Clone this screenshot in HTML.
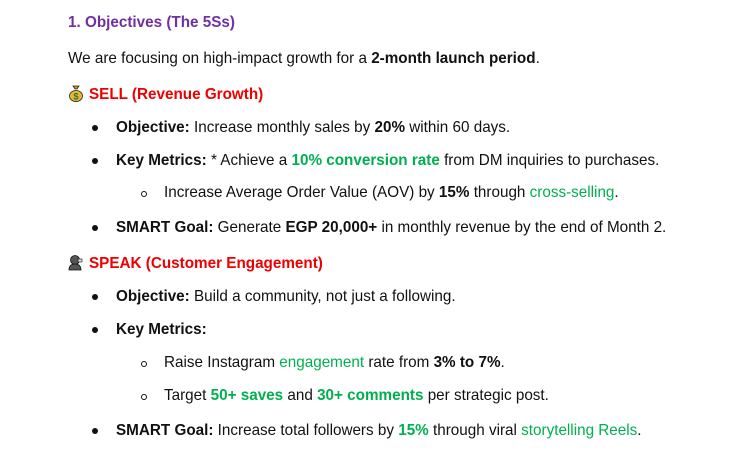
<!DOCTYPE html>
<html><head><meta charset="utf-8"><style>
body{margin:0;width:752px;height:460px;background:#fff;font-family:"Liberation Sans",sans-serif;font-size:15.25px;color:#111;position:relative;overflow:hidden}
.l{position:absolute;white-space:nowrap;line-height:18px}
.p{color:#7030a0;font-weight:bold}
.r{color:#ee0000;font-weight:bold}
.g{color:#00b050}
.gb{color:#00b050;font-weight:bold}
.dot{position:absolute;width:6px;height:6px;border-radius:50%;background:#111}
.circ{position:absolute;width:4px;height:4px;border-radius:50%;border:1px solid #111}
.ic{display:inline-block;width:16px;height:17px;vertical-align:-3px;margin-right:5px}
</style></head><body>
<div class="l p" style="left:68px;top:14px">1. Objectives (The 5Ss)</div>
<div class="l" style="left:68px;top:50px">We are focusing on high-impact growth for a <b>2-month launch period</b>.</div>
<div class="l r" style="left:68px;top:85px"><svg class="ic" viewBox="0 0 16 17"><path d="M5 1h6l-2 3h-2z" fill="#c8961e" stroke="#222" stroke-width=".8"/><ellipse cx="8" cy="11" rx="6.5" ry="5.5" fill="#e7b436" stroke="#222" stroke-width=".8"/><text x="8" y="14.5" font-size="9" text-anchor="middle" fill="#2a7a2a" font-weight="bold">$</text></svg>SELL (Revenue Growth)</div>
<div class="dot" style="left:92px;top:125px"></div>
<div class="l" style="left:116px;top:119px"><b>Objective:</b> Increase monthly sales by <b>20%</b> within 60 days.</div>
<div class="dot" style="left:92px;top:158px"></div>
<div class="l" style="left:116px;top:152px"><b>Key Metrics:</b> * Achieve a <span class="gb">10% conversion rate</span> from DM inquiries to purchases.</div>
<div class="circ" style="left:141px;top:191px"></div>
<div class="l" style="left:164px;top:184px">Increase Average Order Value (AOV) by <b>15%</b> through <span class="g">cross-selling</span>.</div>
<div class="dot" style="left:92px;top:225px"></div>
<div class="l" style="left:116px;top:219px"><b>SMART Goal:</b> Generate <b>EGP 20,000+</b> in monthly revenue by the end of Month 2.</div>
<div class="l r" style="left:68px;top:254px"><svg class="ic" viewBox="0 0 16 17"><circle cx="7" cy="6" r="4.5" fill="#555" stroke="#111" stroke-width=".8"/><path d="M1 16c0-5 3-6 6-6s6 1 6 6z" fill="#555" stroke="#111" stroke-width=".8"/><rect x="10" y="5" width="4" height="3" fill="#ddd" stroke="#111" stroke-width=".6"/></svg>SPEAK (Customer Engagement)</div>
<div class="dot" style="left:92px;top:294px"></div>
<div class="l" style="left:116px;top:288px"><b>Objective:</b> Build a community, not just a following.</div>
<div class="dot" style="left:92px;top:327px"></div>
<div class="l" style="left:116px;top:321px"><b>Key Metrics:</b></div>
<div class="circ" style="left:141px;top:361px"></div>
<div class="l" style="left:164px;top:354px">Raise Instagram <span class="g">engagement</span> rate from <b>3% to 7%</b>.</div>
<div class="circ" style="left:141px;top:394px"></div>
<div class="l" style="left:164px;top:387px">Target <span class="gb">50+ saves</span> and <span class="gb">30+ comments</span> per strategic post.</div>
<div class="dot" style="left:92px;top:428px"></div>
<div class="l" style="left:116px;top:422px"><b>SMART Goal:</b> Increase total followers by <span class="gb">15%</span> through viral <span class="g">storytelling Reels</span>.</div>
</body></html>
